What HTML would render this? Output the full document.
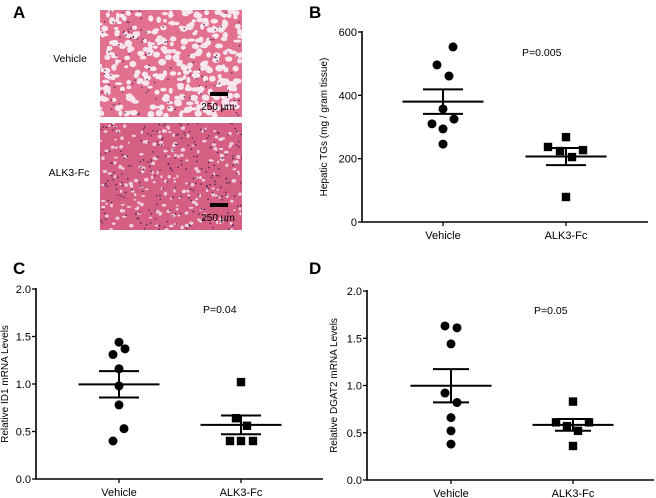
<!DOCTYPE html>
<html><head><meta charset="utf-8"><style>
body{margin:0;background:#fff;}
svg{display:block;font-family:"Liberation Sans",Arial,sans-serif;}
</style></head><body>
<svg id="fig" width="656" height="498" viewBox="0 0 656 498">
<defs>
<clipPath id="c1"><rect x="100" y="10" width="142" height="107"/></clipPath>
<clipPath id="c2"><rect x="100" y="123" width="142" height="107"/></clipPath>
</defs>
<text x="13" y="18" font-size="17" font-weight="bold">A</text>
<text x="309" y="18" font-size="17" font-weight="bold">B</text>
<text x="13" y="274" font-size="17" font-weight="bold">C</text>
<text x="309" y="274" font-size="17" font-weight="bold">D</text>
<text x="70" y="62" font-size="10.5" text-anchor="middle">Vehicle</text>
<text x="69" y="176" font-size="10.5" text-anchor="middle">ALK3-Fc</text>
<g id="img1" clip-path="url(#c1)"><rect x="100" y="10" width="142" height="107" fill="#e2718f"/></g>
<g id="img2" clip-path="url(#c2)"><rect x="100" y="123" width="142" height="107" fill="#d45f82"/></g>
<g><rect x="210" y="92" width="18" height="4" fill="#000"/><text x="218" y="110" font-size="10" text-anchor="middle">250 µm</text></g>
<g><rect x="210" y="203" width="18" height="4" fill="#000"/><text x="218" y="221" font-size="10" text-anchor="middle">250 µm</text></g>
<g id="panels"></g>
</svg>
<script>
// Panel B data
const bCats=["Vehicle","ALK3-Fc"];
const bVeh=[553,496,461,357,310,325,294,246];
const bVehDx=[10,-6,6,0,-11,11,0,0];
const bAlk=[268,237,224,227,205,79];
const bAlkDx=[0,-18,-6,17,6,0];
const bTicks=[0,200,400,600];
// Panel C data
const cVeh=[1.44,1.31,1.37,1.16,0.98,0.78,0.53,0.40];
const cVehDx=[0,-6,6,0,0,0,5,-6];
const cAlk=[1.02,0.64,0.56,0.40,0.40,0.40];
const cAlkDx=[0,-5,6,-11,0,12];
const cdTicks=[0,0.5,1.0,1.5,2.0];
// Panel D data
const dVeh=[1.63,1.61,1.44,0.92,0.82,0.66,0.52,0.38];
const dVehDx=[-6,6,0,-6,6,0,0,0];
const dAlk=[0.83,0.61,0.57,0.52,0.61,0.36];
const dAlkDx=[0,-17,-6,5,16,0];

const NS="http://www.w3.org/2000/svg";
function mk(p,t,a){const e=document.createElementNS(NS,t);for(const k in a)e.setAttribute(k,a[k]);p.appendChild(e);return e;}

// histology textures (decorative)
let seed=7;function rnd(){seed=(seed*16807)%2147483647;return seed/2147483647;}
const g1=document.getElementById('img1');
for(let i=0;i<330;i++){mk(g1,'ellipse',{cx:100+rnd()*142,cy:10+rnd()*107,rx:1.8+rnd()*2.2,ry:1.4+rnd()*2,fill:'#f8e6ee'});}
for(let i=0;i<110;i++){mk(g1,'circle',{cx:100+rnd()*142,cy:10+rnd()*107,r:0.8,fill:'#5a2a5e'});}
const g2=document.getElementById('img2');
for(let i=0;i<200;i++){mk(g2,'ellipse',{cx:100+rnd()*142,cy:123+rnd()*107,rx:1+rnd()*1.4,ry:0.8+rnd()*1.2,fill:'#f0cddb'});}
for(let i=0;i<230;i++){mk(g2,'circle',{cx:100+rnd()*142,cy:123+rnd()*107,r:0.8,fill:'#4b2560'});}

function panel(o){
  const P=document.getElementById('panels');
  const g=mk(P,'g',{});
  
  
  const y=v=>o.y0-(v-o.min)/(o.max-o.min)*(o.y0-o.y1);
  const ax=mk(g,'path',{d:`M${o.x0},${o.y1-1}V${o.y0}H${o.xend}`,stroke:'#000','stroke-width':1.6,fill:'none'});
  
  
  o.ticks.forEach(t=>{
    mk(g,'line',{x1:o.x0-4,x2:o.x0,y1:y(t),y2:y(t),stroke:'#000','stroke-width':1.3});
    const tl=mk(g,'text',{x:o.x0-5,y:y(t)+4,'font-size':11,'text-anchor':'end'});
    tl.textContent=o.fmt(t);
    
    
  });
  const yt=mk(g,'text',{x:0,y:0,'font-size':10,'text-anchor':'middle',transform:`translate(${o.ytx},${(o.y0+o.y1)/2}) rotate(-90)`});
  yt.textContent=o.ytitle;
  
  
  const pt=mk(g,'text',{x:o.px,y:o.py,'font-size':10.5});
  pt.textContent=o.ptxt;
  
  
  [o.veh,o.alk].forEach((vals,gi)=>{
    const cx=o.cx[gi];
    mk(g,'line',{x1:cx,x2:cx,y1:o.y0,y2:o.y0+4,stroke:'#000','stroke-width':1.3});
    const xl=mk(g,'text',{x:cx,y:o.y0+17,'font-size':11,'text-anchor':'middle'});
    xl.textContent=bCats[gi];
    
    
    const dx=gi?o.alkDx:o.vehDx;
    vals.forEach((v,i)=>{
      let m;
      if(gi==0){m=mk(g,'circle',{cx:cx+dx[i],cy:y(v),r:4.5,fill:'#000'});
        }
      else{m=mk(g,'rect',{x:cx+dx[i]-4.2,y:y(v)-4.2,width:8.4,height:8.4,fill:'#000'});
        }
      
    });
    const n=vals.length,mean=vals.reduce((a,b)=>a+b,0)/n;
    const sd=Math.sqrt(vals.reduce((a,b)=>a+(b-mean)**2,0)/(n-1)),se=sd/Math.sqrt(n);
    const hw=o.meanW/2,cw=o.capW/2;
    const ml=mk(g,'line',{x1:cx-hw,x2:cx+hw,y1:y(mean),y2:y(mean),stroke:'#000','stroke-width':2});
    
    
    const eb=mk(g,'path',{d:`M${cx},${y(mean-se)}V${y(mean+se)}M${cx-cw},${y(mean+se)}H${cx+cw}M${cx-cw},${y(mean-se)}H${cx+cw}`,stroke:'#000','stroke-width':2,fill:'none'});
    
    
  });
}
panel({name:'panel-b-chart',x0:362,xend:648,y0:222,y1:32,min:0,max:600,ticks:bTicks,fmt:t=>t,cx:[443,566],
  veh:bVeh,alk:bAlk,vehDx:bVehDx,alkDx:bAlkDx,meanW:81,capW:40,ytx:327,ytitle:'Hepatic TGs (mg /  gram tissue)',px:522,py:56,ptxt:'P=0.005'});
panel({name:'panel-c-chart',x0:36,xend:323,y0:479,y1:289,min:0,max:2,ticks:cdTicks,fmt:t=>t.toFixed(1),cx:[119,241],
  veh:cVeh,alk:cAlk,vehDx:cVehDx,alkDx:cAlkDx,meanW:81,capW:40,ytx:8,ytitle:'Relative ID1 mRNA Levels',px:203,py:313,ptxt:'P=0.04'});
panel({name:'panel-d-chart',x0:367,xend:654,y0:480,y1:291,min:0,max:2,ticks:cdTicks,fmt:t=>t.toFixed(1),cx:[451,573],
  veh:dVeh,alk:dAlk,vehDx:dVehDx,alkDx:dAlkDx,meanW:81,capW:36,ytx:337,ytitle:'Relative DGAT2 mRNA Levels',px:534,py:314,ptxt:'P=0.05'});
</script>
</body></html>
